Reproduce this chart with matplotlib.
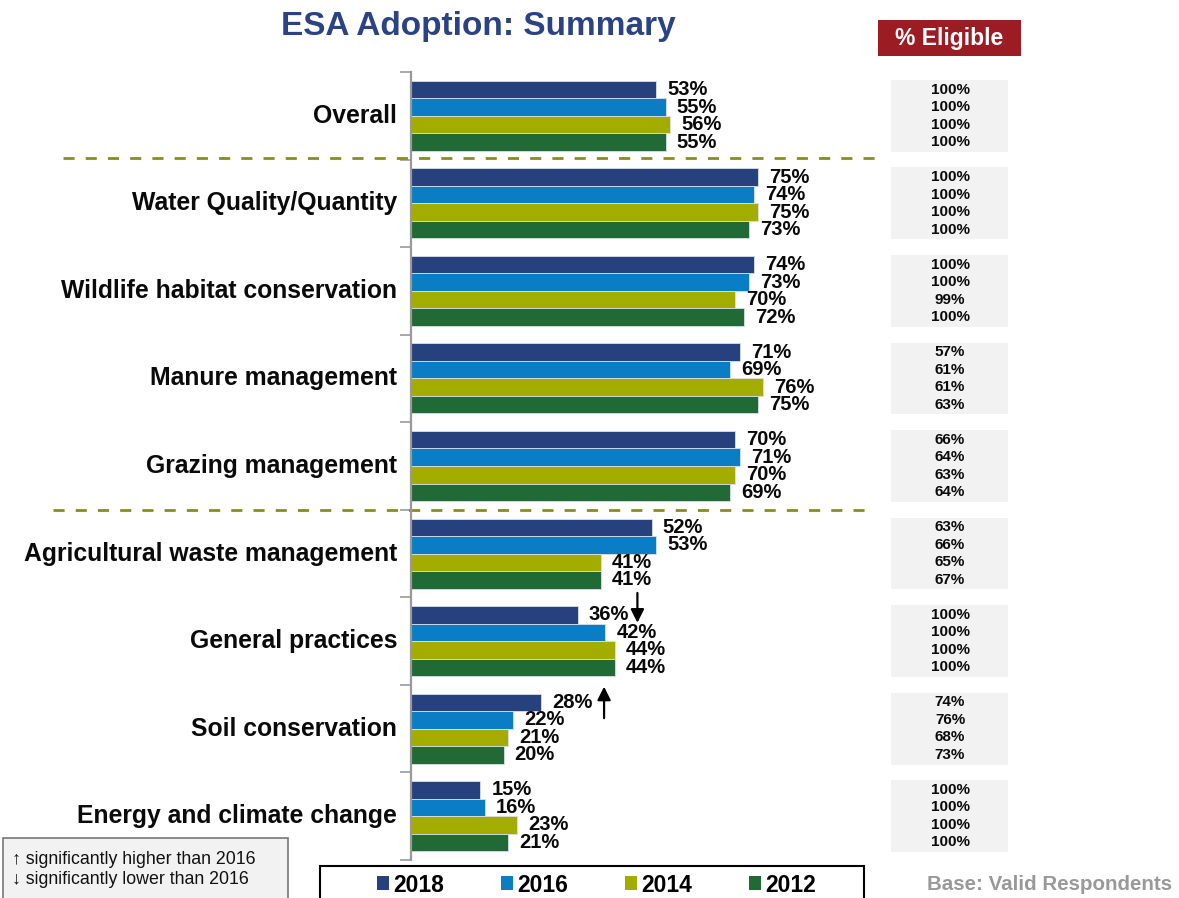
import matplotlib
matplotlib.use("Agg")
import matplotlib.pyplot as plt
from matplotlib.patches import Rectangle, Patch
from matplotlib.transforms import blended_transform_factory

categories = ["Overall", "Water Quality/Quantity", "Wildlife habitat conservation",
              "Manure management", "Grazing management", "Agricultural waste management",
              "General practices", "Soil conservation", "Energy and climate change"]
years = ["2018", "2016", "2014", "2012"]
v2018 = [53, 75, 74, 71, 70, 52, 36, 28, 15]
v2016 = [55, 74, 73, 69, 71, 53, 42, 22, 16]
v2014 = [56, 75, 70, 76, 70, 41, 44, 21, 23]
v2012 = [55, 73, 72, 75, 69, 41, 44, 20, 21]
elig2018 = [100, 100, 100, 57, 66, 63, 100, 74, 100]
elig2016 = [100, 100, 100, 61, 64, 66, 100, 76, 100]
elig2014 = [100, 100, 99, 61, 63, 65, 100, 68, 100]
elig2012 = [100, 100, 100, 63, 64, 67, 100, 73, 100]
colors = ["#27417F", "#0A7DC4", "#A3AD00", "#216935"]

series = [v2018, v2016, v2014, v2012]
elig = [elig2018, elig2016, elig2014, elig2012]

plt.rcParams['font.family'] = ['Liberation Sans', 'DejaVu Sans']

W, H = 1179, 898
fig = plt.figure(figsize=(W / 100, H / 100), dpi=100)

def fx(px):
    return px / W

def fy(py):
    return 1 - py / H

ax = fig.add_axes([fx(411), fy(860), fx(874) - fx(411), fy(72) - fy(860)])
ax.set_xlim(0, 100)
ax.set_ylim(len(categories) - 0.5, -0.5)

offsets = [-0.3, -0.1, 0.1, 0.3]
bh = 0.2
for k, (vals, col) in enumerate(zip(series, colors)):
    ys = [i + offsets[k] for i in range(len(categories))]
    ax.barh(ys, vals, height=bh, color=col, edgecolor="#d8e0e8", linewidth=0.6, label=years[k])
    for y, v in zip(ys, vals):
        ax.text(v + 2.4, y, f"{v}%", ha="left", va="center", fontsize=14.5,
                fontweight="bold", color="#0a0a0a")

ax.set_yticks([i - 0.5 for i in range(len(categories) + 1)])
ax.set_yticklabels([])
ax.tick_params(axis="y", direction="out", length=8, width=1.2, color="#999999")
for i, c in enumerate(categories):
    ax.text(-3.0, i, c, ha="right", va="center", fontsize=17.8, fontweight="bold", color="#0a0a0a")
ax.set_xticks([])
for s in ["top", "right", "bottom"]:
    ax.spines[s].set_visible(False)
ax.spines["left"].set_color("#999999")
ax.spines["left"].set_linewidth(1.6)

# dashed separators
ax.plot([fx(63), fx(880)], [fy(158), fy(158)], transform=fig.transFigure, clip_on=False,
        color="#8A8C1C", lw=2, ls=(0, (4, 4)))
ax.plot([fx(53), fx(870)], [fy(510), fy(510)], transform=fig.transFigure, clip_on=False,
        color="#8A8C1C", lw=2, ls=(0, (4, 4)))

# significance arrows
arrow_kw = dict(arrowstyle="-|>", color="black", lw=1.6, mutation_scale=20, shrinkA=0, shrinkB=0)
ax.annotate("", xy=(48.9, 5.79), xytext=(48.9, 5.45), xycoords="data",
            arrowprops=arrow_kw, annotation_clip=False)
ax.annotate("", xy=(41.7, 6.52), xytext=(41.7, 6.88), xycoords="data",
            arrowprops=arrow_kw, annotation_clip=False)

# eligible column
bt = blended_transform_factory(fig.transFigure, ax.transData)
for i in range(len(categories)):
    ax.add_patch(Rectangle((fx(891), i - 0.41), fx(1008) - fx(891), 0.82, transform=bt,
                           facecolor="#F2F2F2", edgecolor="none", clip_on=False))
    for k in range(4):
        ax.text(fx(950), i + offsets[k], f"{elig[k][i]}%", transform=bt, ha="center", va="center",
                fontsize=11, fontweight="bold", color="#0a0a0a")

# title
fig.text(fx(478), fy(26), "ESA Adoption: Summary", ha="center", va="center", fontsize=24,
         fontweight="bold", color="#2B4385")

# % Eligible header
fig.patches.append(Rectangle((fx(878), fy(56)), fx(1021) - fx(878), fy(20) - fy(56),
                             transform=fig.transFigure, facecolor="#9C1C24", edgecolor="none"))
fig.text(fx(949.5), fy(39), "% Eligible", ha="center", va="center", fontsize=16.5,
         fontweight="bold", color="white")

# legend
fig.patches.append(Rectangle((fx(320), fy(905)), fx(864) - fx(320), fy(866) - fy(905),
                             transform=fig.transFigure, facecolor="white", edgecolor="black", lw=1.5))
handles = [Patch(facecolor=c, edgecolor="none") for c in colors]
fig.legend(handles, years, loc="center", bbox_to_anchor=(fx(596.5), fy(885)), ncol=4,
           frameon=False, handlelength=0.52, handleheight=0.55, handletextpad=0.17,
           columnspacing=2.5, prop=dict(size=16.5, weight="bold"))

# note box
fig.patches.append(Rectangle((fx(3), fy(905)), fx(288) - fx(3), fy(838) - fy(905),
                             transform=fig.transFigure, facecolor="#F2F2F2", edgecolor="#777777", lw=1.2))
fig.text(fx(12), fy(860), "\u2191 significantly higher than 2016", ha="left", va="center",
         fontsize=12.8, color="#111111")
fig.text(fx(12), fy(880), "\u2193 significantly lower than 2016", ha="left", va="center",
         fontsize=12.8, color="#111111")

fig.text(fx(1172), fy(885), "Base: Valid Respondents", ha="right", va="center", fontsize=14.8,
         fontweight="bold", color="#999999")

fig.savefig("out.png", dpi=100)
